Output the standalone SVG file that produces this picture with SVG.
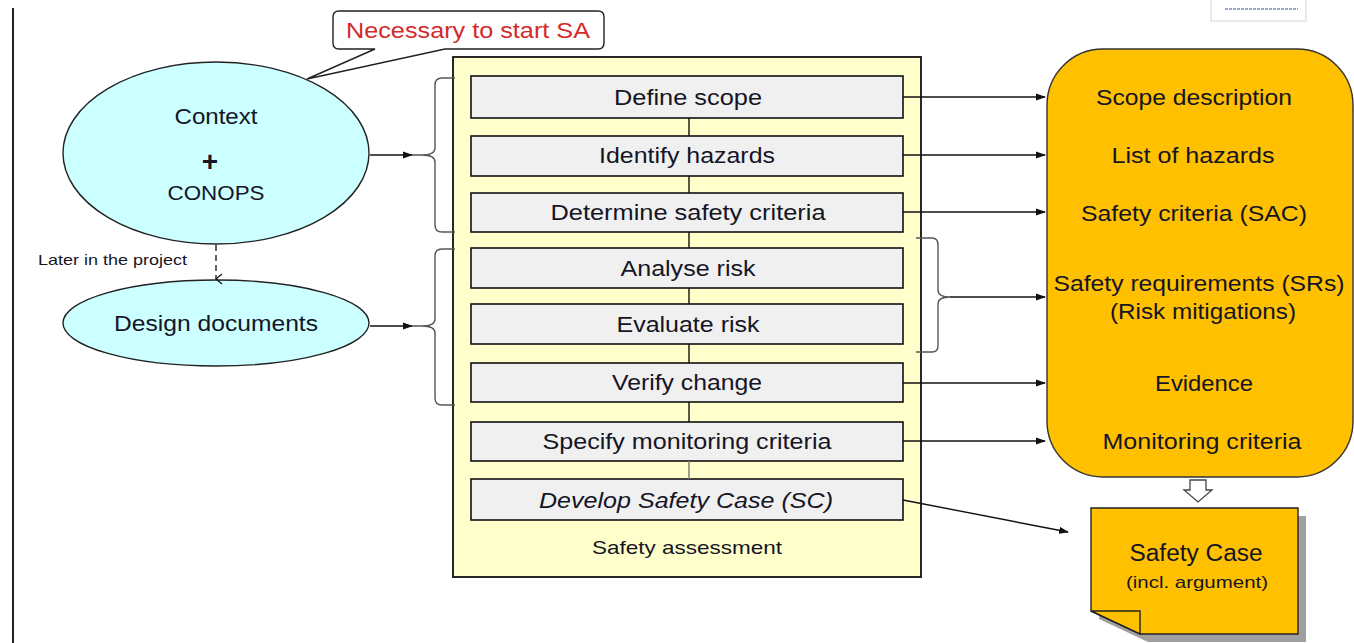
<svg xmlns="http://www.w3.org/2000/svg" width="1354" height="643" viewBox="0 0 1354 643">
<defs>
<style>
text{font-family:"Liberation Sans",Arial,sans-serif;fill:#151525}
.t20{font-size:22px;text-anchor:middle}
.step{fill:#f0f0f0;stroke:#111;stroke-width:1.6}
.ln{stroke:#111;stroke-width:1.4;fill:none}
.br{stroke:#555;stroke-width:1.4;fill:none}
</style>
<marker id="ah" markerWidth="10" markerHeight="8" refX="9" refY="4" orient="auto" markerUnits="userSpaceOnUse">
<path d="M0,0.5 L10,4 L0,7.5 z" fill="#111"/>
</marker>
<marker id="oa" markerWidth="12" markerHeight="10" refX="6" refY="9" orient="auto" markerUnits="userSpaceOnUse">
<path d="M1,3 L6,9 L11,3" fill="none" stroke="#111" stroke-width="1.2"/>
</marker>
</defs>
<rect width="1354" height="643" fill="#fff"/>
<line x1="13" y1="8" x2="13" y2="643" stroke="#222" stroke-width="2"/>
<g id="corner-box"><rect x="1211" y="-2" width="95" height="23" fill="#fff" stroke="#ddd" stroke-width="1.2"/><line x1="1225" y1="9" x2="1298" y2="9" stroke="#9aa8c8" stroke-width="2" stroke-dasharray="3,1"/></g>

<g id="callout">
<path d="M339,11 H598 Q604,11 604,17 V43 Q604,49 598,49 H445 L307,79 L375,49 H339 Q333,49 333,43 V17 Q333,11 339,11 Z" fill="#fff" stroke="#222" stroke-width="1.4"/>
<text x="468" y="38" class="t20" style="fill:#d42a2a" textLength="244" lengthAdjust="spacingAndGlyphs">Necessary to start SA</text>
</g>

<g id="context">
<ellipse cx="216" cy="153" rx="153" ry="91" fill="#ccffff" stroke="#222" stroke-width="1.4"/>
<text x="216" y="124" class="t20" textLength="83" lengthAdjust="spacingAndGlyphs">Context</text>
<text x="210" y="171" class="t20" style="font-size:28px;font-weight:bold">+</text>
<text x="216" y="200" class="t20" style="font-size:20px" textLength="97" lengthAdjust="spacingAndGlyphs">CONOPS</text>
</g>

<text x="38" y="265" style="font-size:15px" textLength="149" lengthAdjust="spacingAndGlyphs">Later in the project</text>

<g id="design">
<ellipse cx="216" cy="323" rx="153" ry="43" fill="#ccffff" stroke="#222" stroke-width="1.4"/>
<text x="216" y="331" class="t20" textLength="204" lengthAdjust="spacingAndGlyphs">Design documents</text>
</g>

<g id="assessment">
<rect x="453" y="57" width="468" height="520" fill="#ffffcc" stroke="#111" stroke-width="1.8"/>
<text x="687" y="554" class="t20" style="font-size:19px" textLength="190" lengthAdjust="spacingAndGlyphs">Safety assessment</text>
</g>

<g id="steps">
<g id="s1"><rect class="step" x="471" y="76" width="432" height="42"/><text x="688" y="105" class="t20" textLength="148" lengthAdjust="spacingAndGlyphs">Define scope</text></g>
<g id="s2"><rect class="step" x="471" y="136" width="432" height="40"/><text x="687" y="163" class="t20" textLength="176" lengthAdjust="spacingAndGlyphs">Identify hazards</text></g>
<g id="s3"><rect class="step" x="471" y="193" width="432" height="39"/><text x="688" y="220" class="t20" textLength="275" lengthAdjust="spacingAndGlyphs">Determine safety criteria</text></g>
<g id="s4"><rect class="step" x="471" y="248" width="432" height="40"/><text x="688" y="276" class="t20" textLength="135" lengthAdjust="spacingAndGlyphs">Analyse risk</text></g>
<g id="s5"><rect class="step" x="471" y="304" width="432" height="40"/><text x="688" y="332" class="t20" textLength="143" lengthAdjust="spacingAndGlyphs">Evaluate risk</text></g>
<g id="s6"><rect class="step" x="471" y="363" width="432" height="39"/><text x="687" y="390" class="t20" textLength="150" lengthAdjust="spacingAndGlyphs">Verify change</text></g>
<g id="s7"><rect class="step" x="471" y="422" width="432" height="39"/><text x="687" y="449" class="t20" textLength="289" lengthAdjust="spacingAndGlyphs">Specify monitoring criteria</text></g>
<g id="s8"><rect class="step" x="471" y="479" width="432" height="41"/><text x="686" y="508" class="t20" style="font-style:italic" textLength="294" lengthAdjust="spacingAndGlyphs">Develop Safety Case (SC)</text></g>
</g>

<g id="outputs">
<rect x="1047" y="49" width="306" height="428" rx="56" ry="56" fill="#ffc000" stroke="#333" stroke-width="1.4"/>
<text x="1194" y="105" class="t20" textLength="196" lengthAdjust="spacingAndGlyphs">Scope description</text>
<text x="1193" y="163" class="t20" textLength="163" lengthAdjust="spacingAndGlyphs">List of hazards</text>
<text x="1194" y="221" class="t20" textLength="226" lengthAdjust="spacingAndGlyphs">Safety criteria (SAC)</text>
<text x="1199" y="291" class="t20" textLength="291" lengthAdjust="spacingAndGlyphs">Safety requirements (SRs)</text>
<text x="1203" y="319" class="t20" textLength="186" lengthAdjust="spacingAndGlyphs">(Risk mitigations)</text>
<text x="1204" y="391" class="t20" textLength="98" lengthAdjust="spacingAndGlyphs">Evidence</text>
<text x="1202" y="449" class="t20" textLength="199" lengthAdjust="spacingAndGlyphs">Monitoring criteria</text>
</g>

<g id="safety-case">
<path d="M1099,516 H1306 V642 H1148 L1099,619 Z" fill="#888" opacity="0.8"/>
<path d="M1091,508 H1298 V634 H1140 L1091,611 Z" fill="#ffc000" stroke="#222" stroke-width="1.4"/>
<path d="M1091,611 H1140 V634 Z" fill="#ffc000" stroke="#222" stroke-width="1.4"/>
<text x="1196" y="561" class="t20" style="font-size:23px" textLength="133" lengthAdjust="spacingAndGlyphs">Safety Case</text>
<text x="1197" y="588" class="t20" style="font-size:17px" textLength="142" lengthAdjust="spacingAndGlyphs">(incl. argument)</text>
</g>

<g id="connectors">
<path class="ln" d="M689,118 V136 M689,176 V193 M689,232 V248 M689,288 V304 M689,344 V363 M689,402 V422"/>
<path d="M689,461 V479" stroke="#777" stroke-width="1.4"/>
<line class="ln" x1="370" y1="155" x2="412" y2="155" marker-end="url(#ah)"/>
<path class="br" d="M455,78 H442 Q435,78 435,85 V148 Q435,155 422,155 H412 M422,155 Q435,155 435,162 V225 Q435,232 442,232 H455"/>
<line class="ln" x1="370" y1="326" x2="412" y2="326" marker-end="url(#ah)"/>
<path class="br" d="M455,249 H442 Q435,249 435,256 V319 Q435,326 422,326 H412 M422,326 Q435,326 435,333 V398 Q435,405 442,405 H455"/>
<line x1="216" y1="245" x2="216" y2="279" stroke="#222" stroke-width="1.4" stroke-dasharray="6,4" marker-end="url(#oa)"/>
<line class="ln" x1="903" y1="97" x2="1045" y2="97" marker-end="url(#ah)"/>
<line class="ln" x1="903" y1="155" x2="1045" y2="155" marker-end="url(#ah)"/>
<line class="ln" x1="903" y1="212" x2="1045" y2="212" marker-end="url(#ah)"/>
<path class="br" d="M916,238 H932 Q938,238 938,245 V290 Q938,297 950,297 M950,297 Q938,297 938,304 V346 Q938,352 932,352 H916"/>
<line class="ln" x1="950" y1="297" x2="1045" y2="297" marker-end="url(#ah)"/>
<line class="ln" x1="903" y1="383" x2="1045" y2="383" marker-end="url(#ah)"/>
<line class="ln" x1="903" y1="441" x2="1045" y2="441" marker-end="url(#ah)"/>
<line class="ln" x1="903" y1="500" x2="1068" y2="532" marker-end="url(#ah)"/>
<path d="M1190,480 H1206 V490 H1212 L1198,502 L1184,490 H1190 Z" fill="#fff" stroke="#444" stroke-width="1.3"/>
</g>
</svg>
